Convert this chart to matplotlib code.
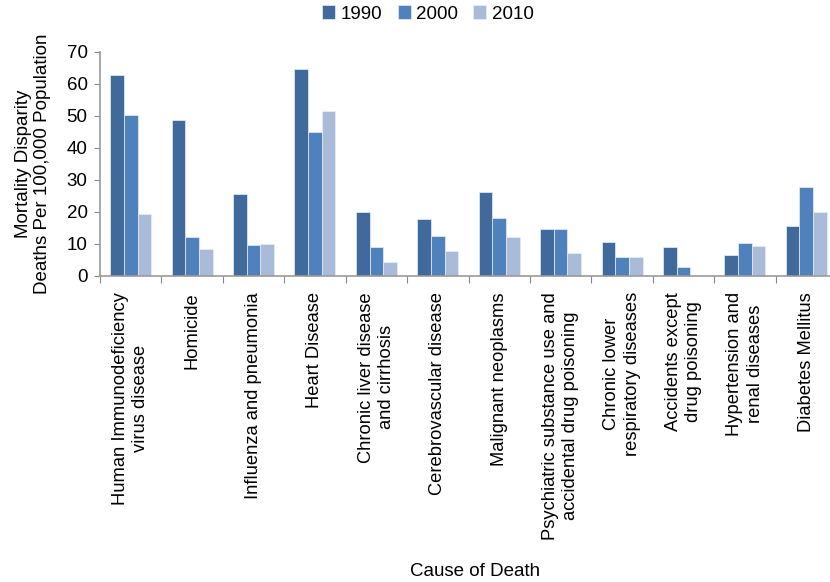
import matplotlib.pyplot as plt
import numpy as np

plt.rcParams['font.family'] = ['Liberation Sans', 'DejaVu Sans']

causes = [
    'Human Immunodeficiency\nvirus disease',
    'Homicide',
    'Influenza and pneumonia',
    'Heart Disease',
    'Chronic liver disease\nand cirrhosis',
    'Cerebrovascular disease',
    'Malignant neoplasms',
    'Psychiatric substance use and\naccidental drug poisoning',
    'Chronic lower\nrespiratory diseases',
    'Accidents except\ndrug poisoning',
    'Hypertension and\nrenal diseases',
    'Diabetes Mellitus',
]
years = ['1990', '2000', '2010']
y1990 = [62.7, 48.8, 25.7, 64.7, 20.0, 17.8, 26.3, 14.7, 10.6, 9.0, 6.5, 15.7]
y2000 = [50.3, 12.1, 9.7, 45.0, 9.1, 12.5, 18.1, 14.6, 5.8, 2.8, 10.2, 27.7]
y2010 = [19.4, 8.4, 10.0, 51.5, 4.5, 7.7, 12.1, 7.1, 5.8, 0.0, 9.4, 19.9]
colors = ['#40699C', '#4F81BD', '#AABBD9']

fs = 13.5
W, H = 830, 582
fig = plt.figure(figsize=(W / 100, H / 100), dpi=100)
ax = fig.add_axes([100 / W, (H - 276) / H, 737 / W, 224 / H])

n = len(causes)
x = np.arange(n)
bw = 1 / 4.5
for i, (vals, lab) in enumerate(zip([y1990, y2000, y2010], years)):
    ax.bar(x + (i - 1) * bw, vals, width=bw, color=colors[i],
           edgecolor='#e8eef6', linewidth=0.5, label=lab)

ax.set_xlim(-0.5, n - 0.5)
ax.set_ylim(0, 70)
ax.set_yticks(range(0, 71, 10))
ax.set_xticks(np.arange(n + 1) - 0.5)
ax.set_xticklabels([])
ax.tick_params(axis='y', labelsize=fs, length=4, color='#888888', pad=5)
ax.tick_params(axis='x', length=5, color='#888888')

for s in ['top', 'right']:
    ax.spines[s].set_visible(False)
for s in ['left', 'bottom']:
    ax.spines[s].set_color('#999999')
    ax.spines[s].set_linewidth(1.2)

for xi, name in zip(x, causes):
    ax.text(xi, -5.0, name, rotation=90, ha='center', va='top',
            multialignment='center', fontsize=13.2, linespacing=1.25)

ax.set_ylabel('Mortality Disparity\nDeaths Per 100,000 Population',
              fontsize=fs, labelpad=11, linespacing=1.15)
fig.text(475 / W, 1 - 571 / H, 'Cause of Death', ha='center', va='center',
         fontsize=fs)

fig.legend(loc='center', bbox_to_anchor=(428 / W, 1 - 14 / H), ncol=3,
           frameon=False, fontsize=fs, handlelength=0.7, handleheight=0.7,
           handletextpad=0.3, columnspacing=0.8)

fig.savefig('out.png', dpi=100)
